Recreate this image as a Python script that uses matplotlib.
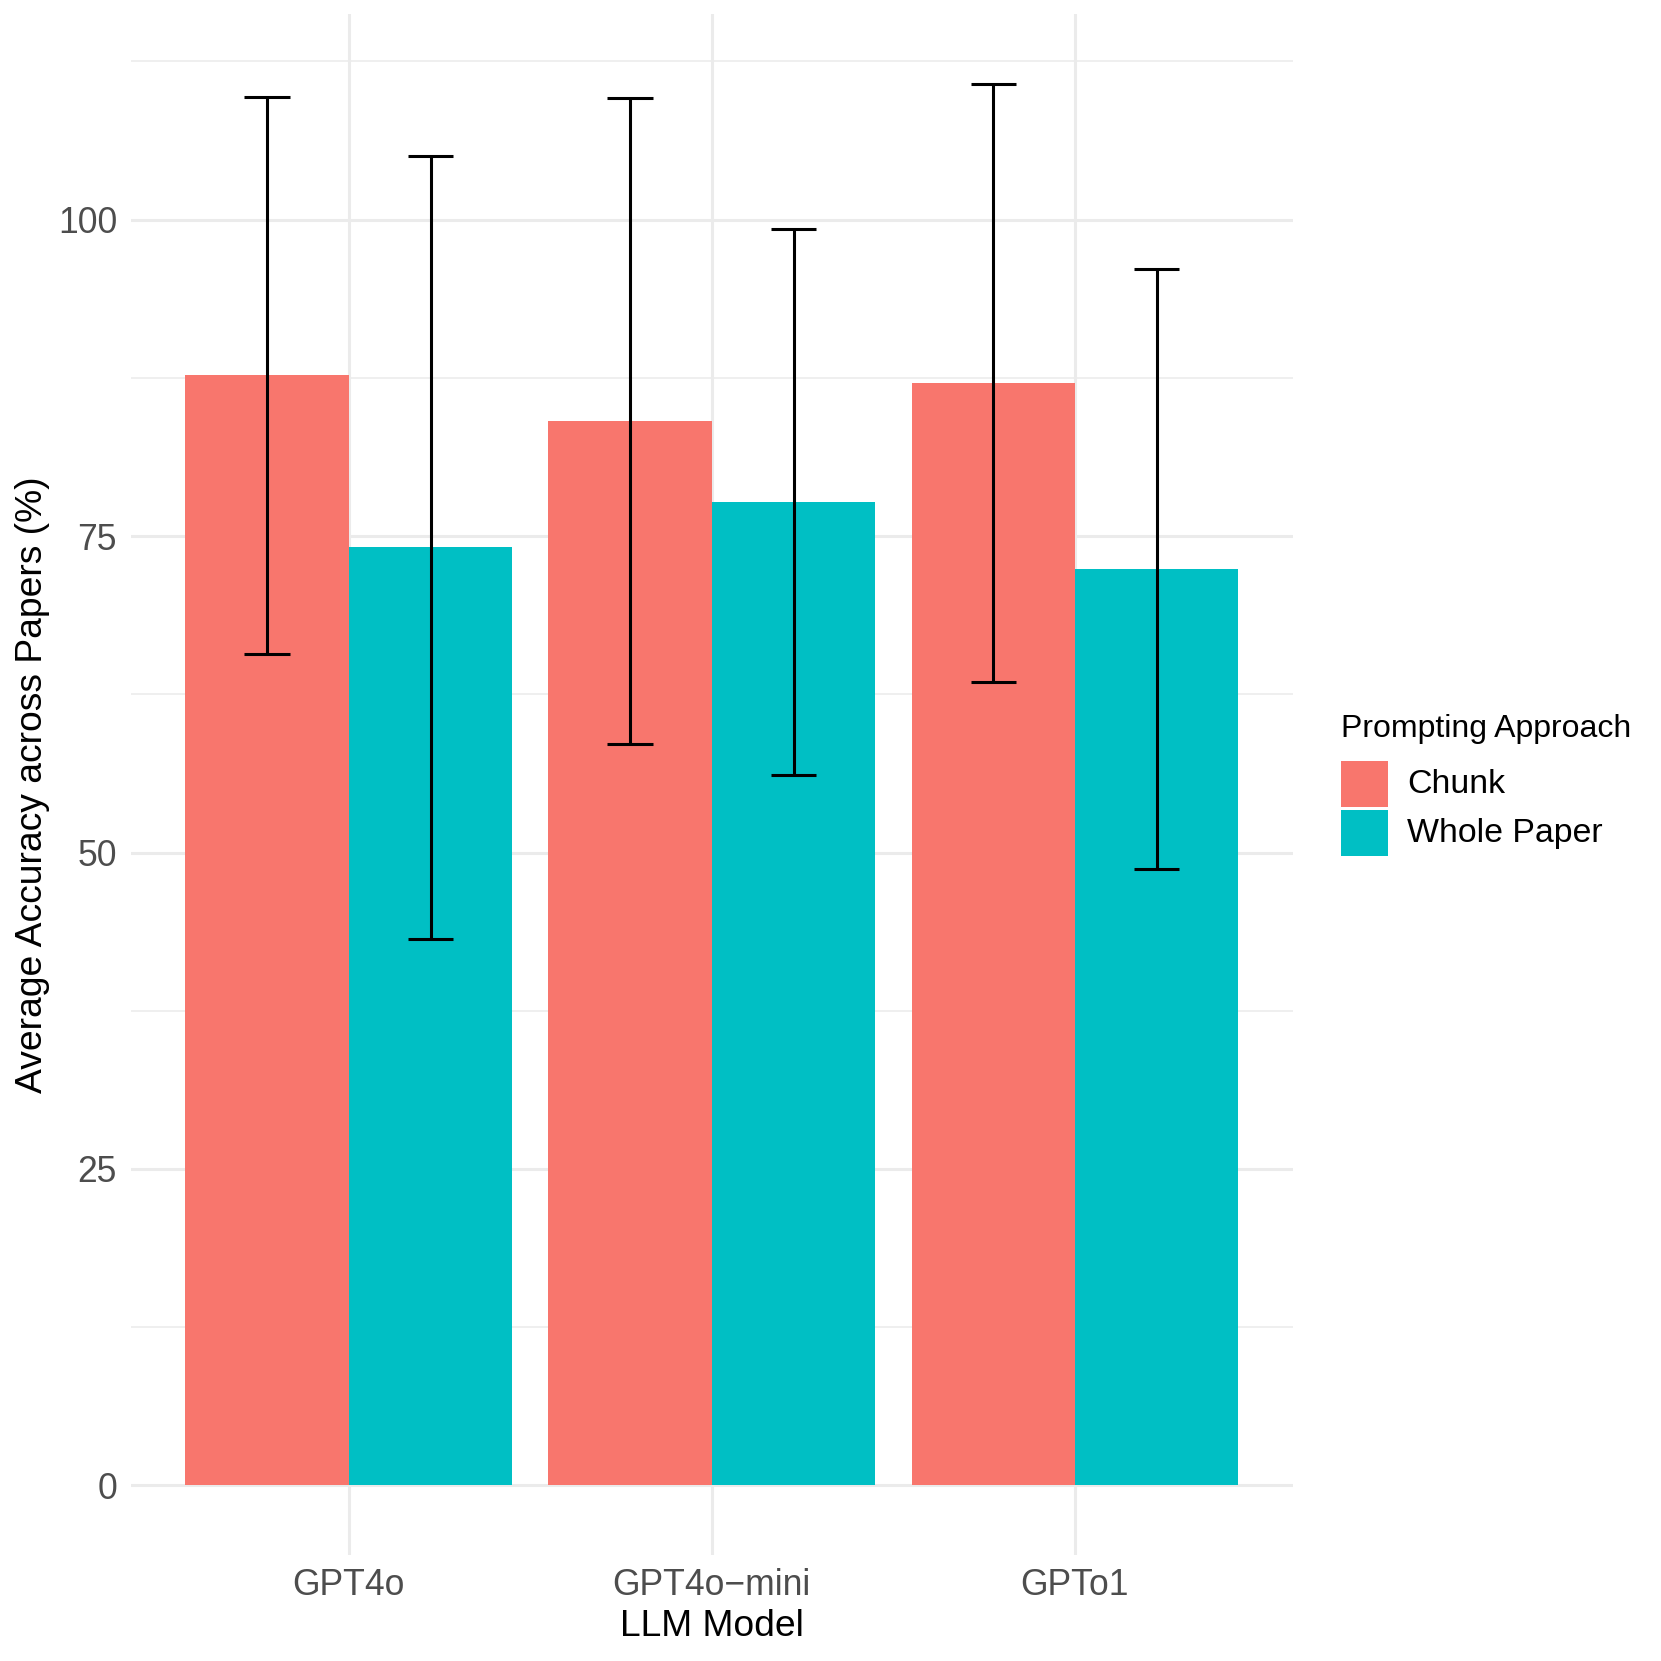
import matplotlib
matplotlib.use("Agg")
import matplotlib.pyplot as plt
from matplotlib.patches import Rectangle
import numpy as np

plt.rcParams['font.family'] = ['Liberation Sans', 'DejaVu Sans']

models = ["GPT4o", "GPT4o\u2212mini", "GPTo1"]
approaches = ["Chunk", "Whole Paper"]
chunk_mean = [87.7, 84.1, 87.1]
chunk_sd = [22.0, 25.5, 23.6]
whole_mean = [74.1, 77.7, 72.4]
whole_sd = [30.9, 21.6, 23.7]
colors = ["#F8766D", "#00BFC4"]

W, H = 1661, 1661
fig = plt.figure(figsize=(W / 200, H / 200), dpi=200)
top_px, bot_px = 14.2, 1555.4
ax = fig.add_axes([131 / W, 1 - bot_px / H, (1292.7 - 131) / W, (bot_px - top_px) / H])

x = np.arange(1, len(models) + 1)
bw = 0.45
means = [chunk_mean, whole_mean]
sds = [chunk_sd, whole_sd]
offsets = [-bw / 2, bw / 2]

grid_c = "#EBEBEB"
for yv in [12.5, 37.5, 62.5, 87.5, 112.5]:
    ax.axhline(yv, color=grid_c, lw=0.55, zorder=0)
for yv in [0, 25, 50, 75, 100]:
    ax.axhline(yv, color=grid_c, lw=1.1, zorder=0)
for xv in x:
    ax.axvline(xv, color=grid_c, lw=1.1, zorder=0)

for i in range(2):
    ax.bar(x + offsets[i], means[i], width=bw, color=colors[i], zorder=2, linewidth=0)
for i in range(2):
    m = np.array(means[i]); s = np.array(sds[i])
    ax.vlines(x + offsets[i], m - s, m + s, color='black', lw=1.1, zorder=3)
    cw = 0.0625
    for xi, lo, hi in zip(x + offsets[i], m - s, m + s):
        ax.hlines([lo, hi], xi - cw, xi + cw, color='black', lw=1.1, zorder=3)

ax.set_xlim(0.4, 3.6)
ax.set_ylim(-5.535, 116.235)
ax.set_xticks(x)
ax.set_xticklabels(models)
ax.set_yticks([0, 25, 50, 75, 100])
ax.tick_params(axis='both', length=0, labelsize=12.8, colors='#4D4D4D')
ax.tick_params(axis='x', pad=4.7)
ax.tick_params(axis='y', pad=5)
for sp in ax.spines.values():
    sp.set_visible(False)
ax.set_xlabel("LLM Model", fontsize=13.4, labelpad=2)
ax.set_ylabel("Average Accuracy across Papers (%)", fontsize=13.4, labelpad=3)

fig.text(1341 / W, 1 - 729 / H, "Prompting Approach", fontsize=11.5, va='center', ha='left')
key_tops = [760.6, 810.4]
for i, lab in enumerate(approaches):
    top = key_tops[i]
    fig.patches.append(Rectangle((1341 / W, 1 - (top + 46) / H), 46.6 / W, 46 / H,
                                 transform=fig.transFigure, color=colors[i], lw=0))
    fig.text(1406.8 / W, 1 - (top + 23.5) / H, lab, fontsize=12.2, va='center', ha='left')

fig.savefig("out.png", dpi=200, facecolor='white')
